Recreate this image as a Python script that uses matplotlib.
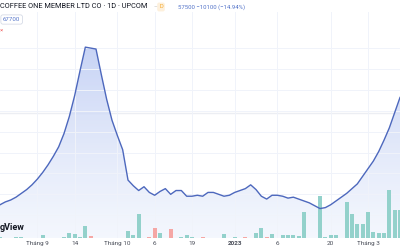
import numpy as np
import matplotlib.pyplot as plt
from matplotlib.patches import Polygon

plt.rcParams['font.family'] = ['Roboto', 'DejaVu Sans']

# daily closes, one per bar
close = [28500, 30000, 31000, 32500, 34500, 36500, 39000, 42000, 45500, 49500,
         54000, 59000, 66000, 75000, 86000, 99000, 111500, 111000, 110500, 97000,
         84000, 73000, 65000, 57500, 41500, 38500, 36000, 38000, 35000, 33500,
         35500, 37000, 34000, 36000, 36000, 33000, 33000, 33500, 33000, 35000,
         35000, 34000, 33000, 33500, 35000, 36000, 37000, 39000, 36500, 33000,
         31500, 33500, 33500, 33000, 32000, 32500, 31500, 30500, 29500, 28000,
         26500, 27000, 28500, 30500, 32500, 34500, 37000, 39500, 43500, 47500,
         51500, 56500, 62500, 69000, 77000, 85000]

volume = [300, 100, 100, 200, 200, 100, 100, 100, 600, 100,
          60, 100, 300, 1000, 800, 300, 2600, 500, 100, 60,
          60, 100, 100, 100, 1400, 600, 5000, 100, 300, 2200,
          1000, 100, 1800, 100, 200, 600, 200, 100, 200, 100,
          100, 100, 800, 100, 200, 100, 200, 100, 1000, 2200,
          300, 800, 100, 600, 600, 600, 400, 5400, 100, 100,
          8800, 200, 600, 700, 100, 7600, 5000, 3000, 3000, 5400,
          1200, 1000, 1000, 10200, 5800, 6000]
down_days = [17, 28, 29, 32, 38, 46, 50]

tick_pos = [7, 14, 22, 29, 36, 44, 52, 62, 69]
tick_labels = ["Tháng 9", "14", "Tháng 10", "6", "19", "2023", "6", "20", "Tháng 3"]
grid_prices = [23000, 34000, 45000, 56000, 67000, 78000, 89000, 100000, 111000]

x = np.arange(len(close))
fig = plt.figure(figsize=(4, 2.5), dpi=100)
rect = [0, 12 / 250, 1, 226 / 250]

# grid + area fill layer
ax_g = fig.add_axes(rect)
ax_g.set_xlim(0, 75)
ax_g.set_ylim(11000, 130000)
ax_g.set_yticks(grid_prices)
ax_g.set_xticks(tick_pos)
ax_g.set_xticklabels(tick_labels)
ax_g.grid(True, color='#f0f3fa', linewidth=0.7, zorder=0)
ax_g.axhline(77000, color='#eceef3', linewidth=1.0, zorder=0)
ax_g.tick_params(axis='y', left=False, labelleft=False)
ax_g.tick_params(axis='x', length=0, pad=2.5, labelsize=4.6, labelcolor='#4a4e59')
ax_g.get_xticklabels()[5].set_fontweight('bold')
for s in ax_g.spines.values():
    s.set_visible(False)

verts = list(zip(x, close)) + [(x[-1], 11000), (x[0], 11000)]
poly = Polygon(verts, closed=True, facecolor='none', edgecolor='none')
ax_g.add_patch(poly)
grad = np.linspace(0, 1, 256)[:, None, None]
top = np.array([0.77, 0.82, 0.96, 0.95])
bot = np.array([0.93, 0.95, 0.99, 0.6])
img = top * (1 - grad) + bot * grad
im = ax_g.imshow(img, extent=[0, 75, 11000, 112000], aspect='auto', origin='upper', zorder=1)
im.set_clip_path(poly)
ax_g.set_xlim(0, 75)
ax_g.set_ylim(11000, 130000)

# volume layer
ax_v = fig.add_axes(rect, sharex=ax_g)
ax_v.set_facecolor('none')
vcol = ['#f5a7a5' if i in down_days else '#93d1cb' for i in range(len(volume))]
ax_v.bar(x, volume, width=0.78, color=vcol, linewidth=0)
ax_v.set_ylim(0, 47600)
ax_v.axis('off')

# price line layer
ax_p = fig.add_axes(rect, sharex=ax_g)
ax_p.set_facecolor('none')
ax_p.plot(x, close, color='#4d68bd', linewidth=1.0)
ax_p.set_ylim(11000, 130000)
ax_p.set_xlim(0, 75)
ax_p.axis('off')


def px(xp, yp):
    return xp / 400, 1 - yp / 250


fig.text(*px(0, 7), "COFFEE ONE MEMBER LTD CO · 1D · UPCOM", fontsize=5.3, color='#131722', va='center')
fig.text(*px(161, 7), "D", fontsize=4, color='#f5a623', va='center', ha='center',
         bbox=dict(boxstyle='round,pad=0.35', fc='#fdf0dc', ec='none'))
fig.text(*px(155, 7), "–", fontsize=4, color='#b8b8b8', va='center', ha='center')
fig.text(*px(178, 7), "57500 −10100 (−14.94%)", fontsize=4.3, color='#5474c9', va='center')
fig.text(*px(3, 19.5), "67700", fontsize=4.4, color='#5474c9', va='center',
         bbox=dict(boxstyle='round,pad=0.35', fc='white', ec='#d6dbe6', lw=0.6))
fig.text(*px(0, 30), "×", fontsize=4.5, color='#ef6a6a', va='center')
fig.text(*px(0, 228), "gView", fontsize=6.5, color='#131722', va='center', fontweight='bold')

fig.savefig("out.png", dpi=100)
